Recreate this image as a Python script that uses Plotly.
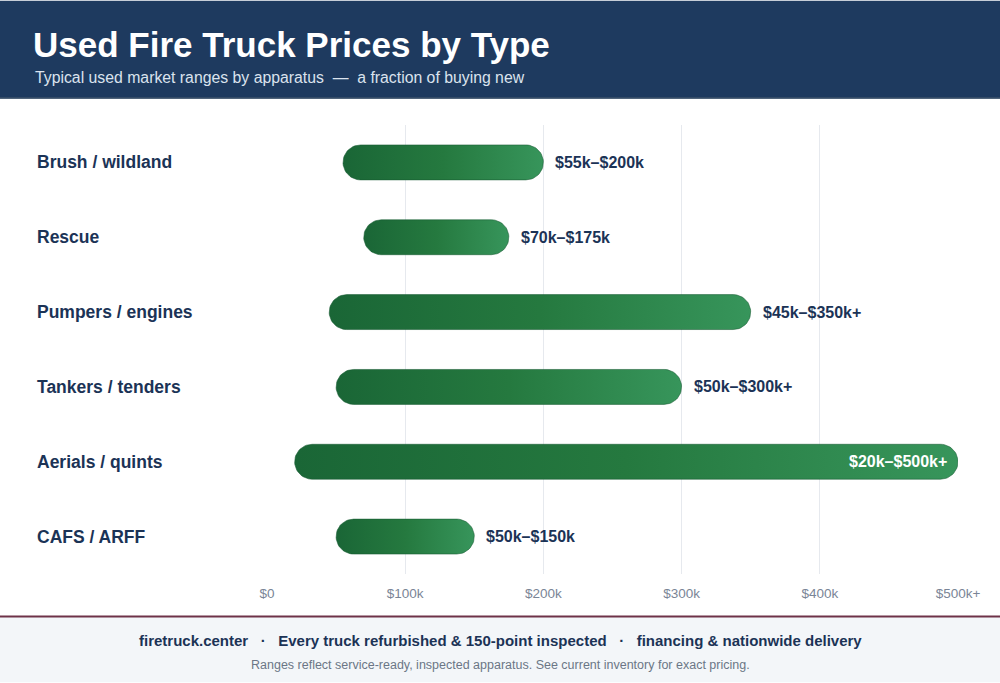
import numpy as np
import plotly.graph_objects as go

categories = ["Brush / wildland", "Rescue", "Pumpers / engines", "Tankers / tenders", "Aerials / quints", "CAFS / ARFF"]
low_k = [55, 70, 45, 50, 20, 50]
high_k = [200, 175, 350, 300, 500, 150]
range_labels = ["$55k–$200k", "$70k–$175k", "$45k–$350k+", "$50k–$300k+", "$20k–$500k+", "$50k–$150k"]
tick_vals = [0, 100, 200, 300, 400, 500]
tick_text = ["$0", "$100k", "$200k", "$300k", "$400k", "$500k+"]

W, H = 1000, 683
ML, MR, MT, MB = 267, 42, 124.5, 108.5
PW, PH = W - ML - MR, H - MT - MB
XMAX = 500
px_per_x = PW / XMAX
px_per_y = PH / len(categories)

def py(p):  # pixel y -> paper y
    return (H - MB - p) / PH

def px(p):  # pixel x -> paper x
    return (p - ML) / PW

NAVY = "#1e3a5f"
TEXT = "#1b3356"
FONT = "Liberation Sans, Arial, sans-serif"

fig = go.Figure()

r = 17.5
rx, ry = r / px_per_x, r / px_per_y
for i, (lo, hi) in enumerate(zip(low_k, high_k)):
    a1 = np.linspace(-np.pi / 2, np.pi / 2, 30)
    a2 = np.linspace(np.pi / 2, 3 * np.pi / 2, 30)
    xs = np.concatenate([hi - rx + rx * np.cos(a1), lo + rx + rx * np.cos(a2)])
    ys = np.concatenate([i - ry * np.sin(a1), i - ry * np.sin(a2)])
    xs = np.append(xs, xs[0]); ys = np.append(ys, ys[0])
    fig.add_trace(go.Scatter(
        x=xs, y=ys, mode="lines", fill="toself",
        line=dict(color="rgba(22,90,50,0.55)", width=1),
        fillgradient=dict(type="horizontal", colorscale=[[0, "#1a6636"], [0.5, "#25793f"], [1, "#37955b"]]),
        hoverinfo="skip", showlegend=False,
    ))
    inside = hi >= 450
    fig.add_annotation(
        x=hi, y=i, xref="x", yref="y", text=f"<b>{range_labels[i]}</b>", showarrow=False,
        xanchor="right" if inside else "left", yanchor="middle", xshift=-9 if inside else 10,
        font=dict(size=16, color="white" if inside else TEXT, family=FONT),
    )
    fig.add_annotation(
        x=px(35), y=i, xref="paper", yref="y", text=f"<b>{categories[i]}</b>", showarrow=False,
        xanchor="left", yanchor="middle", font=dict(size=17.5, color=TEXT, family=FONT),
    )

shapes = [
    dict(type="rect", xref="paper", yref="paper", x0=px(0), x1=px(W), y0=py(0), y1=py(97), fillcolor=NAVY, line_width=0, layer="below"),
    dict(type="line", xref="paper", yref="paper", x0=px(0), x1=px(W), y0=py(97.5), y1=py(97.5), line=dict(color="#16304f", width=1.5)),
    dict(type="rect", xref="paper", yref="paper", x0=px(0), x1=px(W), y0=py(617), y1=py(H), fillcolor="#f3f6f9", line_width=0, layer="below"),
    dict(type="line", xref="paper", yref="paper", x0=px(0), x1=px(W), y0=py(617), y1=py(617), line=dict(color="#6e3248", width=2)),
]
fig.update_layout(shapes=shapes)

ann = [
    dict(x=px(31), y=py(44), text="<b>Used Fire Truck Prices by Type</b>", font=dict(size=35, color="white")),
    dict(x=px(33), y=py(77), text="Typical used market ranges by apparatus  —  a fraction of buying new", font=dict(size=15.8, color="#dbe3ee")),
]
for a in ann:
    fig.add_annotation(xref="paper", yref="paper", xanchor="left", yanchor="middle", showarrow=False, **a)
fig.add_annotation(xref="paper", yref="paper", x=px(W / 2), y=py(641.5), xanchor="center", yanchor="middle", showarrow=False,
                   text="<b>firetruck.center   ·   Every truck refurbished &amp; 150-point inspected   ·   financing &amp; nationwide delivery</b>",
                   font=dict(size=15, color=TEXT))
fig.add_annotation(xref="paper", yref="paper", x=px(W / 2), y=py(665.5), xanchor="center", yanchor="middle", showarrow=False,
                   text="Ranges reflect service-ready, inspected apparatus. See current inventory for exact pricing.",
                   font=dict(size=12.5, color="#6b7686"))

fig.update_layout(
    width=W, height=H, margin=dict(l=ML, r=MR, t=MT, b=MB),
    paper_bgcolor="white", plot_bgcolor="white",
    font=dict(family=FONT),
    xaxis=dict(range=[0, XMAX], tickvals=tick_vals, ticktext=tick_text, showgrid=True, gridcolor="#e6e9ee", gridwidth=1,
               zeroline=False, showline=False, ticks="", ticklabelstandoff=9, tickfont=dict(size=13.5, color="#7a8596"), fixedrange=True),
    yaxis=dict(range=[len(categories) - 0.5, -0.5], showticklabels=False, showgrid=False, zeroline=False, fixedrange=True),
)

fig.write_html("out.html")
